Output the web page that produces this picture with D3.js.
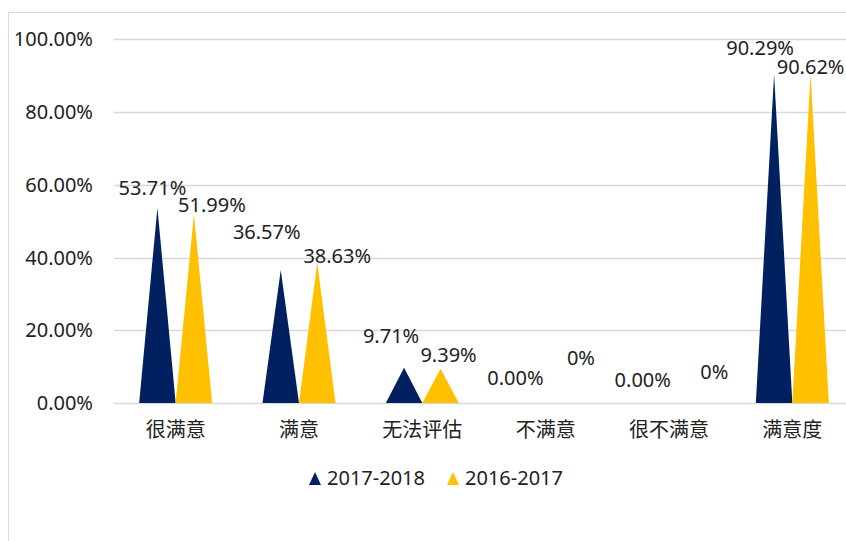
<!DOCTYPE html>
<html lang="zh">

<head>
    <meta charset="UTF-8">
    <title>满意度对比</title>
    <script src="https://d3js.org/d3.v7.min.js"></script>
    <style>
        body { margin: 0; background: #fff; }
        svg { display: block; font-family: "Noto Sans", "Noto Sans CJK SC", sans-serif; }
    </style>
</head>

<body>
    <svg id="chart" width="846" height="541"></svg>

    <script>
        // data
        const categories = ["很满意", "满意", "无法评估", "不满意", "很不满意", "满意度"];
        const seriesNames = ["2017-2018", "2016-2017"];
        const values2017 = [53.71, 36.57, 9.71, 0, 0, 90.29];
        const values2016 = [51.99, 38.63, 9.39, 0, 0, 90.62];
        const yTicks = [0, 20, 40, 60, 80, 100];
        const colors = ["#002060", "#FFC000"];

        // hand-placed label nudges (dx, dy from the apex), like the original
        const labelNudge2017 = [[-5, -20], [-14, -38], [-13, -32], [-12, -25], [-8, -23], [-14, -27]];
        const labelNudge2016 = [[18, -9], [20, -7], [8, -14], [17, -45], [27, -31], [0, -6]];

        const svg = d3.select("#chart");
        const fontSize = 20;

        // outer chart border (runs off the right and bottom edges)
        svg.append("rect")
            .attr("x", 8.5).attr("y", 12.5)
            .attr("width", 900).attr("height", 600)
            .attr("fill", "none")
            .attr("stroke", "#d9d9d9");

        const plotLeft = 114, plotRight = 854, plotTop = 39.3, plotBottom = 403;
        const groupWidth = 73;

        const x = d3.scaleBand()
            .domain(categories)
            .range([plotLeft, plotRight]);

        const x1 = d3.scaleBand()
            .domain(seriesNames)
            .range([0, groupWidth]);

        const y = d3.scaleLinear()
            .domain([0, 100])
            .range([plotBottom, plotTop]);

        // gridlines
        svg.append("g")
            .selectAll("line")
            .data(yTicks)
            .join("line")
            .attr("x1", plotLeft).attr("x2", 846)
            .attr("y1", d => Math.round(y(d)) + 0.5)
            .attr("y2", d => Math.round(y(d)) + 0.5)
            .attr("stroke", "#d9d9d9")
            .attr("stroke-width", 1.3);

        // y axis labels
        svg.append("g")
            .selectAll("text")
            .data(yTicks)
            .join("text")
            .attr("x", 93)
            .attr("y", d => y(d))
            .attr("dy", "0.35em")
            .attr("text-anchor", "end")
            .attr("font-size", fontSize)
            .attr("fill", "#222")
            .text(d => d.toFixed(2) + "%");

        // x axis labels
        svg.append("g")
            .selectAll("text")
            .data(categories)
            .join("text")
            .attr("x", d => x(d) + x.bandwidth() / 2)
            .attr("y", 437)
            .attr("text-anchor", "middle")
            .attr("font-size", fontSize)
            .attr("font-family", "'Noto Sans CJK SC', sans-serif")
            .attr("fill", "#222")
            .text(d => d);

        const series = [
            { name: seriesNames[0], values: values2017, nudge: labelNudge2017, color: colors[0] },
            { name: seriesNames[1], values: values2016, nudge: labelNudge2016, color: colors[1] }
        ];

        function fmt(s, v) {
            if (v === 0 && s.name === "2016-2017") return "0%";
            return v.toFixed(2) + "%";
        }

        function barLeft(c, s) {
            return x(c) + (x.bandwidth() - groupWidth) / 2 + x1(s.name);
        }

        series.forEach(function (s) {
            const g = svg.append("g");
            const bw = x1.bandwidth();

            g.selectAll("path")
                .data(categories)
                .join("path")
                .attr("fill", s.color)
                .attr("d", function (c, i) {
                    const x0 = barLeft(c, s);
                    const v = s.values[i];
                    if (v === 0) return null;
                    return `M${x0},${y(0)}L${x0 + bw / 2},${y(v)}L${x0 + bw},${y(0)}Z`;
                });

            g.selectAll("text")
                .data(categories)
                .join("text")
                .attr("x", (c, i) => barLeft(c, s) + bw / 2 + s.nudge[i][0])
                .attr("y", (c, i) => y(s.values[i]) + s.nudge[i][1])
                .attr("dy", "0.35em")
                .attr("text-anchor", "middle")
                .attr("font-size", fontSize)
                .attr("fill", "#222")
                .text((c, i) => fmt(s, s.values[i]));
        });

        // legend
        const legend = svg.append("g").attr("transform", "translate(309, 478)");
        const legendX = [0, 138];
        series.forEach(function (s, i) {
            const lg = legend.append("g").attr("transform", `translate(${legendX[i]}, 0)`);
            lg.append("path")
                .attr("d", "M0,7L6,-6L12,7Z")
                .attr("fill", s.color);
            lg.append("text")
                .attr("x", 18)
                .attr("y", 0)
                .attr("dy", "0.35em")
                .attr("font-size", fontSize)
                .attr("fill", "#222")
                .text(s.name);
        });
    </script>
</body>

</html>
